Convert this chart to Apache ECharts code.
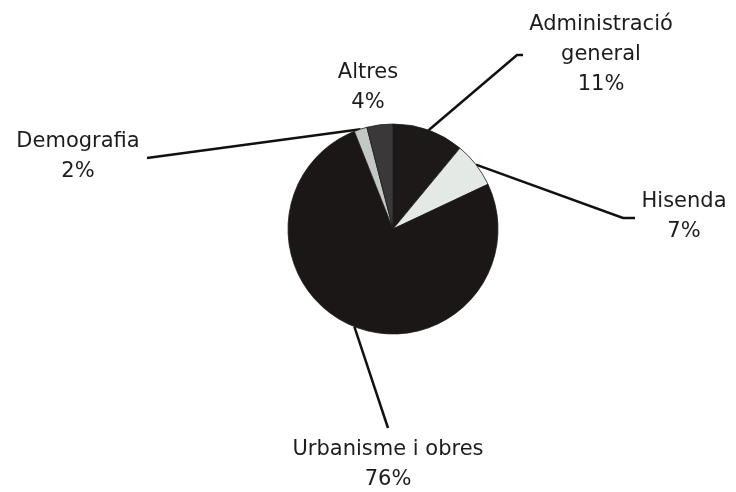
<!DOCTYPE html>
<html>
<head>
<meta charset="utf-8">
<script src="https://cdn.jsdelivr.net/npm/echarts@6/dist/echarts.min.js"></script>
<style>
html,body{margin:0;padding:0;background:#fff;}
#chart{width:736px;height:492px;}
</style>
</head>
<body>
<div id="chart"></div>
<script>
// Data (clockwise from 12 o'clock)
var categories = ['Administració\ngeneral', 'Hisenda', 'Urbanisme i obres', 'Demografia', 'Altres'];
var shares = [11, 7, 76, 2, 4];

// Styling / layout (kept separate from data)
var sliceColors = ['#1d1919', '#e4e9e5', '#1b1717', '#c3c8c4', '#3a3838'];
var labelAnchor = [
  {x: 601, y: 55, line: [[517, 55], [523, 55]]},
  {x: 684, y: 217, line: [[623, 218], [635, 218]]},
  {x: 388, y: 465, line: [[388, 428], [388, 428]]},
  {x: 78, y: 157, line: [[147, 158], [147, 158]]},
  {x: 368, y: 88, line: null}
];

var chart = echarts.init(document.getElementById('chart'), null, {renderer: 'canvas'});
var data = categories.map(function (name, i) {
  var item = {name: name, value: shares[i], itemStyle: {color: sliceColors[i]}};
  if (!labelAnchor[i].line) item.labelLine = {show: false};
  return item;
});

chart.setOption({
  animation: false,
  backgroundColor: '#ffffff',
  series: [{
    type: 'pie',
    center: [393, 229],
    radius: 105,
    startAngle: 90,
    clockwise: true,
    avoidLabelOverlap: false,
    itemStyle: {borderColor: '#1a1a1a', borderWidth: 0.8},
    label: {
      show: true,
      position: 'outside',
      formatter: '{b}\n{c}%',
      fontFamily: 'DejaVu Sans',
      fontSize: 21,
      lineHeight: 30,
      color: '#1c1c1c',
      align: 'center'
    },
    labelLine: {
      show: true,
      length: 20,
      length2: 20,
      lineStyle: {color: '#111111', width: 2.5}
    },
    emphasis: {disabled: true},
    labelLayout: function (params) {
      var a = labelAnchor[params.dataIndex];
      var res = {x: a.x, y: a.y, align: 'center', verticalAlign: 'middle'};
      if (a.line && params.labelLinePoints) {
        var s = params.labelLinePoints[0];
        res.labelLinePoints = [[s[0], s[1]], a.line[0], a.line[1]];
      }
      return res;
    },
    data: data
  }]
});
</script>
</body>
</html>
